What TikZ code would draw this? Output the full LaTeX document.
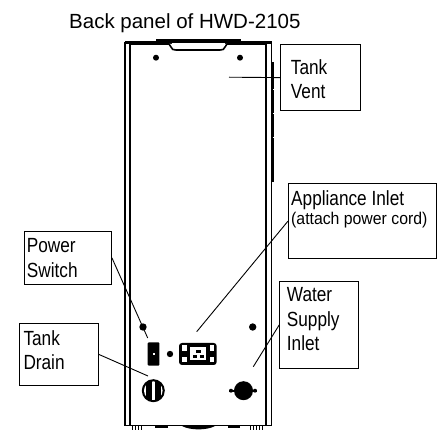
\documentclass[tikz,border=0pt]{standalone}
\usepackage{fontspec}
\setmainfont{Liberation Sans}
\newfontfamily\narrowf[FakeStretch=0.84]{Liberation Sans}
\newfontfamily\narrowb[FakeStretch=0.93]{Liberation Sans}
\tikzset{
  x=1pt,y=-1pt,
  lab/.style={draw=black,line width=0.9pt,inner sep=0pt,minimum width=0pt,anchor=north west},
  txt/.style={anchor=north west,inner sep=0pt,align=left,font=\fontsize{20.5}{24.7}\selectfont\narrowf},
  lead/.style={draw=black,line width=0.9pt},
  foot/.style={line width=0.8pt},
}
\begin{document}
\begin{tikzpicture}
\useasboundingbox (0,0) rectangle (442,430);
\fill[white] (0,0) rectangle (442,430);
\node[anchor=base west,inner sep=0pt,font=\fontsize{20.5}{24}\selectfont] (title) at (69,29) {Back panel of HWD-2105};
% panel walls
\draw[line width=1.3pt] (125,425.5) -- (125,43) -- (271.3,43) -- (271.3,425.5);
\draw[line width=1.1pt] (130,425.5) -- (130,44) -- (266,44) -- (266,425.5);
\draw[line width=1.7pt] (125,425.5) -- (271.3,425.5);
\draw[line width=3pt] (124.5,42.7) -- (271.8,42.7);
\fill[black] (156,39.5) rectangle (241,45);
\draw[line width=1.6pt,fill=white] (169,44) -- (171,47) .. controls (172,49.5) and (173,50) .. (176,50) -- (220,50) .. controls (223,50) and (224,49.5) .. (225,47) -- (227,44);
\fill[white] (171.5,43.4) rectangle (224.5,46);
% side strip
\fill[black] (270.5,62) rectangle (273.5,182);
\fill[white] (272.5,89.5) rectangle (273.5,90.5);
\fill[white] (272.5,113) rectangle (273.5,114);
\fill[white] (272.5,137) rectangle (273.5,138);
% feet
\foreach \a in {132,135,138,141,250,253,256,259,262}{\draw[foot] (\a,426) -- (\a,430);}
\fill[black] (155,426) rectangle (168,428);
\fill[black] (228,426) rectangle (240,428);
\fill[black] (182,426) .. controls (190,430.5) and (207,430.5) .. (215,426) -- cycle;
% screws and dots
\fill[black] (156,57.7) circle (3);
\fill[black] (240,57.7) circle (3);
\fill[black] (143,327) circle (3.7);
\fill[black] (252.7,327) circle (3.7);
\fill[black] (170,354) circle (3.2);
% switch
\fill[black,rounded corners=1pt] (147.7,342.3) rectangle (159.3,365.7);
\fill[white] (152.5,353.5) rectangle (154.5,355.5);
% socket
\fill[black,rounded corners=3pt] (179,343) rectangle (216.7,365);
\fill[white] (182,345.5) rectangle (186.5,351);
\fill[white] (182,357.5) rectangle (186.5,362.5);
\fill[white] (209.5,345.5) rectangle (214,351);
\fill[white] (209.5,357.5) rectangle (214,362.5);
\fill[white] (190,347.5) rectangle (206,360.5);
\fill[black] (196,350) rectangle (200.5,353);
\fill[black] (192.5,355.5) rectangle (197,358);
\fill[black] (199.5,355.5) rectangle (204,358);
% drain knob
\fill[black] (153.3,390.7) circle (11.5);
\fill[white] (153.3,390.7) circle (9.3);
\begin{scope}
\clip (153.3,390.7) circle (10);
\fill[black] (146,379) rectangle (152,402);
\fill[black] (154.6,379) rectangle (160.6,402);
\end{scope}
% water inlet
\fill[black] (243.5,390.7) circle (9.5);
\fill[black] (229,389.8) rectangle (257,391.6);
\fill[black] (231,390.7) circle (2);
\fill[black] (255,390.7) circle (2);
% label boxes
\node[lab,minimum width=80pt,minimum height=65.7pt] (vent) at (280,44.3) {};
\node[txt] (venttext) at (290.7,59) {Tank\\Vent};
\node[lab,minimum width=148.3pt,minimum height=75.3pt] (app) at (288,183) {};
\node[txt,font=\fontsize{20.5}{19}\selectfont\narrowf] (apptext) at (291,190) {Appliance Inlet\\{\fontsize{17}{19}\selectfont\narrowb (attach power cord)}};
\node[lab,minimum width=87.3pt,minimum height=53.3pt] (pow) at (23.7,230.7) {};
\node[txt] (powtext) at (26.7,238) {Power\\Switch};
\node[lab,minimum width=78.4pt,minimum height=62.3pt] (drain) at (19.3,322.7) {};
\node[txt] (draintext) at (23.3,330) {Tank\\Drain};
\node[lab,minimum width=78.4pt,minimum height=87.3pt] (water) at (279.3,280.7) {};
\node[txt] (watertext) at (286.7,287) {Water\\Supply\\Inlet};
% leader ends
\coordinate (e1) at (229,77.2);
\coordinate (e2) at (147.7,338);
\coordinate (e3) at (148,376);
\coordinate (e4) at (196.7,331.7);
\coordinate (e5) at (253.3,366.7);
\draw[lead] (vent.west) -- (e1);
\draw[lead] (pow.east) -- (e2);
\draw[lead] (drain.east) -- (e3);
\draw[lead] (app.west) -- (e4);
\draw[lead] (water.west) -- (e5);
\end{tikzpicture}
\end{document}
